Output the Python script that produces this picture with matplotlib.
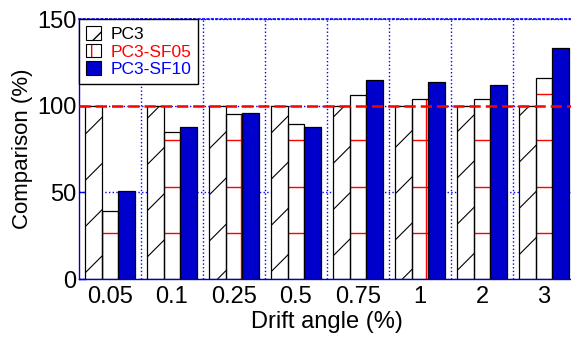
# -*- coding: UTF-8 -*-
# Bar chart : comparison of PC3 / PC3-SF05 / PC3-SF10 vs drift angle

import matplotlib.pyplot as plt
import numpy as np
from matplotlib.patches import Patch
from matplotlib.collections import LineCollection
from matplotlib.legend_handler import HandlerTuple

# ------------------------------- Data -------------------------------------- #

categories = ['0.05', '0.1', '0.25', '0.5', '0.75', '1', '2', '3']
pc3 = [100, 100, 100, 100, 100, 100, 100, 100]
pc3_sf05 = [39.4, 84.6, 95.0, 89.6, 106.2, 103.9, 103.9, 116.0]
pc3_sf10 = [51.0, 87.7, 95.8, 87.9, 114.6, 113.5, 111.7, 133.1]
series_names = ['PC3', 'PC3-SF05', 'PC3-SF10']

# ----------------------------- Constants ----------------------------------- #

W, H, DPI = 5.71, 3.38, 100
BAR_W = 0.27
HATCH_PX = 46.2          # hatch spacing in pixels
BLUE = '#0000CC'
GRID_BLUE = '#0000FF'
YMAX = 150

plt.rcParams['font.family'] = ['Liberation Sans', 'DejaVu Sans']

# ------------------------------- Figure ------------------------------------ #

fig = plt.figure(figsize=(W, H), dpi=DPI)
ax = fig.add_axes([79 / 571, 59 / 338, 496 / 571, 260 / 338])
n = len(categories)
ax.set_xlim(-0.5, n - 0.5)
ax.set_ylim(0, YMAX)

x = np.arange(n)
b1 = ax.bar(x - BAR_W, pc3, BAR_W, facecolor='white', edgecolor='none', zorder=2)
b2 = ax.bar(x, pc3_sf05, BAR_W, facecolor='white', edgecolor='none', zorder=2)
b3 = ax.bar(x + BAR_W, pc3_sf10, BAR_W, facecolor=BLUE, edgecolor='none', zorder=2)

# ------------------------- hand made hatching ------------------------------ #

pos = ax.get_position()
px_x = pos.width * W * DPI / n       # pixels per category
px_y = pos.height * H * DPI / YMAX   # pixels per unit
w_px = pos.width * W * DPI
h_px = pos.height * H * DPI


def to_data(u, v):
    return (-0.5 + u / px_x, v / px_y)


def hatch_segments(kind):
    segs = []
    for k in range(-12, 14):
        s = HATCH_PX * k
        if kind == 'diag':
            segs.append([to_data(s, 0), to_data(s + h_px, h_px)])
        elif kind == 'h' and k > 0:
            segs.append([to_data(0, s), to_data(w_px, s)])
        elif kind == 'v':
            u = s + HATCH_PX / 2
            segs.append([to_data(u, 0), to_data(u, h_px)])
    return segs


def hatch_bars(bars, kinds, color, lw):
    for bar in bars:
        for kind in kinds:
            lc = LineCollection(hatch_segments(kind), colors=color,
                                linewidths=lw, zorder=2.1)
            ax.add_collection(lc)
            lc.set_clip_path(bar)


hatch_bars(b1, ['diag'], 'black', 0.8)
hatch_bars(b2, ['h', 'v'], 'red', 1.0)

# bar outlines on top of hatching
for vals, off in [(pc3, -BAR_W), (pc3_sf05, 0), (pc3_sf10, BAR_W)]:
    ax.bar(x + off, vals, BAR_W, fill=False, edgecolor='black', lw=0.9, zorder=2.2)

# ------------------------------- Axes -------------------------------------- #

ax.set_xticks(x)
ax.set_xticklabels(categories)
ax.set_xticks(x[:-1] + 0.5, minor=True)
ax.set_yticks([0, 50, 100, 150])
ax.tick_params(axis='x', which='both', length=0, labelsize=17, pad=5)
ax.tick_params(axis='y', direction='in', length=5, width=1, color=GRID_BLUE,
               labelsize=17, pad=2)
ax.grid(axis='y', color=GRID_BLUE, ls=':', lw=1)
ax.grid(axis='x', which='minor', color=GRID_BLUE, ls=':', lw=1)
ax.set_axisbelow(True)

ax.axhline(100, color='red', lw=1.8, ls=(0, (4.5, 2)), zorder=4)

for side in ['left', 'bottom', 'right']:
    ax.spines[side].set_color(BLUE)
    ax.spines[side].set_linewidth(1)
ax.spines['top'].set_color(GRID_BLUE)
ax.spines['top'].set_linestyle(':')
ax.spines['top'].set_linewidth(1.2)

ax.set_xlabel('Drift angle (%)', fontsize=17, labelpad=2)
ax.set_ylabel('Comparison (%)', fontsize=16, labelpad=3)

# ------------------------------ Legend ------------------------------------- #

h1 = Patch(facecolor='white', edgecolor='black', hatch='/', lw=0.8)
h2 = (Patch(facecolor='white', edgecolor='red', hatch='+', lw=0),
      Patch(fill=False, edgecolor='black', lw=0.8))
h3 = Patch(facecolor=BLUE, edgecolor='black', lw=0.8)
leg = ax.legend([h1, h2, h3], series_names, loc='upper left',
                handler_map={tuple: HandlerTuple(ndivide=1)},
                fontsize=12.5, labelcolor=['black', 'red', GRID_BLUE],
                fancybox=False, framealpha=1, edgecolor='black',
                borderaxespad=0, borderpad=0.4, labelspacing=0.1,
                handlelength=0.85, handleheight=0.85, handletextpad=0.55)
leg.get_frame().set_linewidth(1)
leg.set_zorder(5)

fig.savefig('out.png', dpi=DPI)
